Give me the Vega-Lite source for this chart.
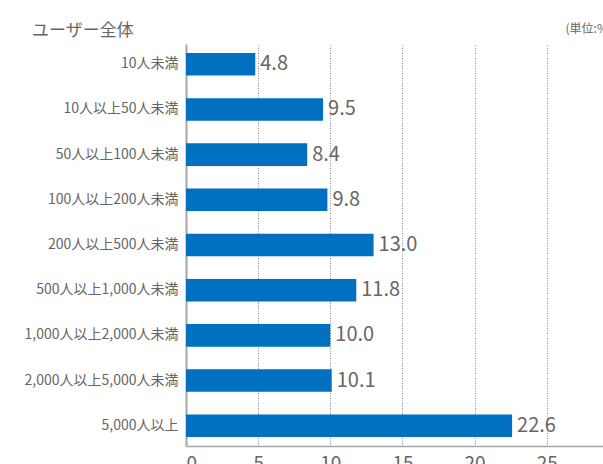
{
  "$schema": "https://vega.github.io/schema/vega-lite/v6.json",
  "autosize": "none",
  "width": 417,
  "height": 402,
  "padding": {"left": 186, "top": 44, "right": 0, "bottom": 18},
  "title": {
    "text": "ユーザー全体",
    "anchor": "start",
    "frame": "group",
    "dx": -154,
    "dy": 26,
    "fontSize": 17,
    "font": "Noto Sans CJK JP",
    "fontWeight": "normal",
    "color": "#666666",
    "offset": 8
  },
  "data": {
    "values": [
      {"category": "10人未満", "value": 4.8},
      {"category": "10人以上50人未満", "value": 9.5},
      {"category": "50人以上100人未満", "value": 8.4},
      {"category": "100人以上200人未満", "value": 9.8},
      {"category": "200人以上500人未満", "value": 13.0},
      {"category": "500人以上1,000人未満", "value": 11.8},
      {"category": "1,000人以上2,000人未満", "value": 10.0},
      {"category": "2,000人以上5,000人未満", "value": 10.1},
      {"category": "5,000人以上", "value": 22.6}
    ]
  },
  "encoding": {
    "y": {
      "field": "category",
      "type": "nominal",
      "sort": null,
      "scale": {"paddingInner": 0.5, "paddingOuter": 0.2},
      "axis": {
        "title": null,
        "ticks": false,
        "labelPadding": 8,
        "labelFontSize": 14,
        "labelFont": "Noto Sans CJK JP",
        "labelColor": "#666666",
        "domainColor": "#a6a6a6",
        "domainWidth": 2,
        "grid": false
      }
    }
  },
  "layer": [
    {
      "mark": {"type": "bar", "color": "#0070C0"},
      "encoding": {
        "x": {
          "field": "value",
          "type": "quantitative",
          "scale": {"domain": [0, 28.9], "nice": false},
          "axis": {
            "title": null,
            "values": [0, 5, 10, 15, 20, 25],
            "ticks": false,
            "labelPadding": 8,
            "labelFontSize": 19,
            "labelFont": "Noto Sans CJK JP",
            "labelColor": "#666666",
            "domainColor": "#a6a6a6",
            "domainWidth": 1.5,
            "grid": true,
            "gridColor": "#8c8c8c",
            "gridDash": [1, 1.5],
            "gridWidth": 1
          }
        }
      }
    },
    {
      "mark": {
        "type": "text",
        "align": "left",
        "baseline": "middle",
        "dx": 5,
        "fontSize": 20,
        "font": "Noto Sans CJK JP",
        "color": "#666666"
      },
      "encoding": {
        "x": {
          "field": "value",
          "type": "quantitative",
          "axis": {
            "orient": "top",
            "title": "(単位:%)",
            "titleFont": "Noto Sans CJK JP",
            "titleFontSize": 12,
            "titleFontWeight": "normal",
            "titleColor": "#666666",
            "titleAnchor": "start",
            "titleAlign": "left",
            "titleBaseline": "middle",
            "titleX": 379,
            "titleY": -16,
            "labels": false,
            "ticks": false,
            "domain": false,
            "grid": false
          }
        },
        "text": {"field": "value", "type": "quantitative", "format": ".1f"}
      }
    }
  ],
  "resolve": {"axis": {"x": "independent"}},
  "config": {"view": {"stroke": null}}
}
